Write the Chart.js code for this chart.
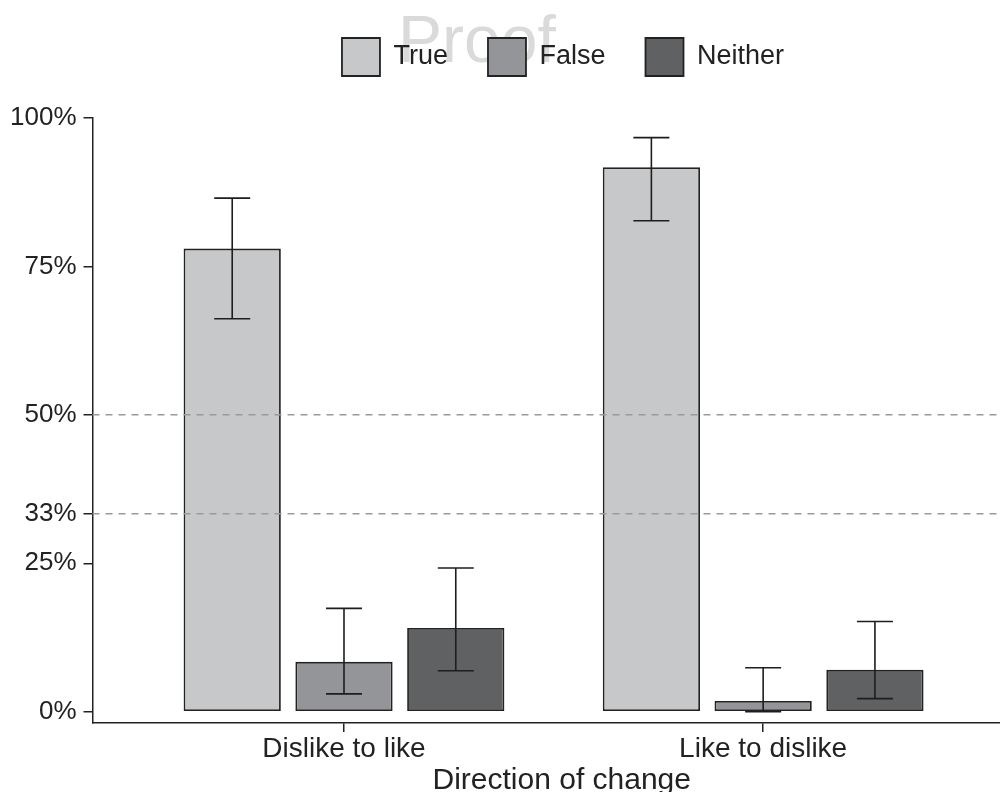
<!DOCTYPE html>
<html>
<head>
<meta charset="utf-8">
<script src="https://cdn.jsdelivr.net/npm/chart.js@4.4.1/dist/chart.umd.min.js"></script>
<style>
  html, body { margin: 0; padding: 0; background: #fff; overflow: hidden; }
  /* the original figure is cropped on the right, so the chart runs a bit past the window */
  #wrap { width: 1031px; height: 792px; }
</style>
</head>
<body>
<div id="wrap"><canvas id="barChart"></canvas></div>
<script>
// data
const categories = ["Dislike to like", "Like to dislike"];
const seriesNames = ["True", "False", "Neither"];
const trueVals = [78.0, 91.7];
const falseVals = [8.4, 1.8];
const neitherVals = [14.1, 7.05];
const trueLow = [66.2, 82.7];
const trueHigh = [86.5, 96.7];
const falseLow = [3.0, 0];
const falseHigh = [17.4, 7.4];
const neitherLow = [6.9, 2.2];
const neitherHigh = [24.2, 15.2];
const yTicks = [0, 25, 100 / 3, 50, 75, 100];
const refLines = [50, 100 / 3];

const fills = ["#c7c8ca", "#949598", "#606163"];
const inkColor = "#222222";
const fontFamily = '"Liberation Sans", Arial, Helvetica, sans-serif';
Chart.defaults.font.family = fontFamily;
Chart.defaults.color = inkColor;

const values = [trueVals, falseVals, neitherVals];
const lows = [trueLow, falseLow, neitherLow];
const highs = [trueHigh, falseHigh, neitherHigh];

const datasets = seriesNames.map(function(name, d) {
    return {
        label: name,
        data: values[d].map(function(v, i) { return { x: i + 1, y: v }; }),
        backgroundColor: fills[d],
        borderColor: inkColor,
        borderWidth: 1.8,
        borderSkipped: false,
        categoryPercentage: 0.8,
        barPercentage: 0.87
    };
});

// watermark behind everything
const proofText = {
    id: 'proofText',
    beforeDraw(chart) {
        const ctx = chart.ctx;
        ctx.save();
        ctx.font = '66px ' + fontFamily;
        ctx.fillStyle = '#dadada';
        ctx.textBaseline = 'alphabetic';
        ctx.fillText('Proof', 398, 62);
        ctx.restore();
    }
};

// move legend to where ggplot put it
const legendShift = {
    id: 'legendShift',
    afterLayout(chart) {
        const lg = chart.legend;
        lg.left += 46; lg.right += 46;
        lg.top -= 32; lg.bottom -= 32;
    }
};

// dashed reference lines + error bars
const extras = {
    id: 'extras',
    afterDatasetsDraw(chart) {
        const ctx = chart.ctx;
        const area = chart.chartArea;
        const y = chart.scales.y;
        ctx.save();
        ctx.strokeStyle = '#9a9a9a';
        ctx.lineWidth = 1.5;
        ctx.setLineDash([7, 6]);
        refLines.forEach(function(v) {
            const py = y.getPixelForValue(v);
            ctx.beginPath();
            ctx.moveTo(area.left, py);
            ctx.lineTo(area.right, py);
            ctx.stroke();
        });
        ctx.setLineDash([]);
        ctx.strokeStyle = '#1e1e1e';
        ctx.lineWidth = 1.6;
        seriesNames.forEach(function(name, d) {
            const meta = chart.getDatasetMeta(d);
            meta.data.forEach(function(bar, i) {
                const x = bar.x;
                const lo = y.getPixelForValue(lows[d][i]);
                const hi = y.getPixelForValue(highs[d][i]);
                const cap = 18;
                ctx.beginPath();
                ctx.moveTo(x, lo); ctx.lineTo(x, hi);
                ctx.moveTo(x - cap, lo); ctx.lineTo(x + cap, lo);
                ctx.moveTo(x - cap, hi); ctx.lineTo(x + cap, hi);
                ctx.stroke();
            });
        });
        ctx.restore();
    }
};

new Chart("barChart", {
    type: "bar",
    data: { datasets: datasets },
    options: {
        responsive: true,
        maintainAspectRatio: false,
        animation: false,
        layout: { padding: { top: 30, left: 3, right: 0, bottom: -4 } },
        plugins: {
            legend: {
                position: 'top',
                labels: {
                    boxWidth: 38,
                    boxHeight: 38,
                    padding: 40,
                    color: inkColor,
                    font: { size: 27, lineHeight: 1 }
                }
            },
            tooltip: { enabled: false }
        },
        scales: {
            x: {
                type: 'linear',
                min: 0.4,
                max: 2.639,
                offset: false,
                afterBuildTicks: function(scale) {
                    scale.ticks = categories.map(function(c, i) { return { value: i + 1 }; });
                },
                ticks: {
                    autoSkip: false,
                    maxRotation: 0,
                    padding: 3,
                    color: inkColor,
                    font: { size: 28, lineHeight: 1 },
                    callback: function(v) { return categories[v - 1]; }
                },
                grid: {
                    offset: false,
                    drawOnChartArea: false,
                    drawTicks: true,
                    tickLength: 9,
                    color: inkColor,
                    lineWidth: 1.5
                },
                border: { display: true, color: inkColor, width: 1.5 },
                title: {
                    display: true,
                    text: 'Direction of change',
                    color: inkColor,
                    font: { size: 30, lineHeight: 1 },
                    padding: { top: 0, bottom: 0 }
                }
            },
            y: {
                min: -1.9,
                max: 100,
                afterBuildTicks: function(scale) {
                    scale.ticks = yTicks.map(function(v) { return { value: v }; });
                },
                ticks: {
                    padding: 7,
                    color: inkColor,
                    font: { size: 26, lineHeight: 1 },
                    callback: function(v) { return Math.round(v) + '%'; }
                },
                grid: {
                    drawOnChartArea: false,
                    drawTicks: true,
                    tickLength: 9,
                    color: inkColor,
                    lineWidth: 1.5
                },
                border: { display: true, color: inkColor, width: 1.5 }
            }
        }
    },
    plugins: [proofText, legendShift, extras]
});
</script>
</body>
</html>
